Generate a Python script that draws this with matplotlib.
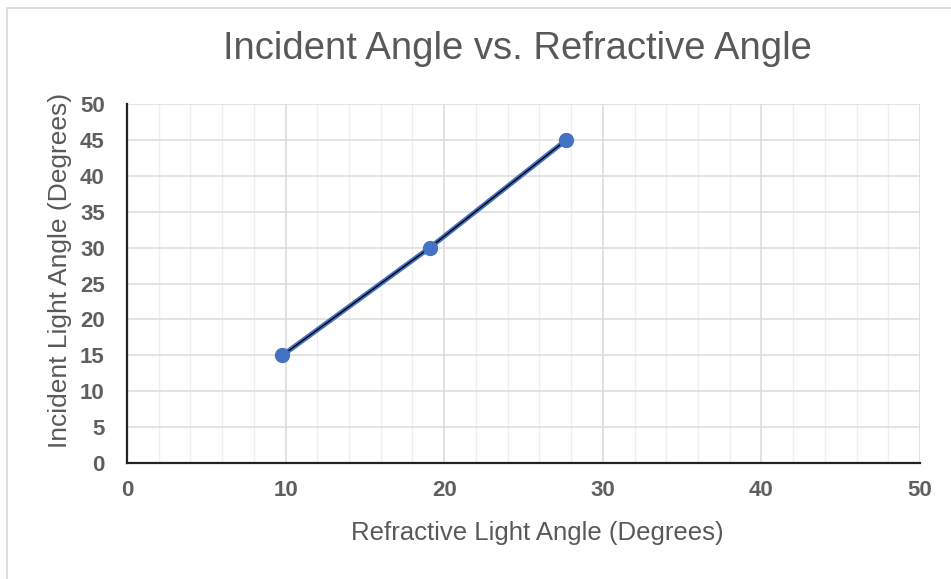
import matplotlib.pyplot as plt
from matplotlib.patches import Rectangle
from matplotlib.ticker import MultipleLocator

# Data
refractive_angle = [9.8, 19.1, 27.7]
incident_angle = [15, 30, 45]

title = "Incident Angle vs. Refractive Angle"
x_label = "Refractive Light Angle (Degrees)"
y_label = "Incident Light Angle (Degrees)"

plt.rcParams['font.family'] = ['Liberation Sans', 'DejaVu Sans']

W, H = 951, 579
fig = plt.figure(figsize=(W / 100, H / 100), dpi=100)
fig.patch.set_facecolor('white')

# light frame of the cropped chart (left and top edges only)
fig.add_artist(Rectangle((7 / W, -0.1), 1.2, 1.1 - 8 / H, transform=fig.transFigure,
                         fill=False, edgecolor='#d9d9d9', linewidth=1.2))

# axes placed in pixel coordinates of the reference
left, right, top, bottom = 127, 920, 104, 463
ax = fig.add_axes([left / W, 1 - bottom / H, (right - left) / W, (bottom - top) / H])

ax.set_xlim(0, 50)
ax.set_ylim(0, 50)
ax.xaxis.set_major_locator(MultipleLocator(10))
ax.xaxis.set_minor_locator(MultipleLocator(2))
ax.yaxis.set_major_locator(MultipleLocator(5))

ax.grid(which='major', axis='x', color='#d9d9d9', linewidth=1.1)
ax.grid(which='minor', axis='x', color='#efefef', linewidth=1.0)
ax.grid(which='major', axis='y', color='#dcdcdc', linewidth=1.1)
ax.set_axisbelow(True)

for side in ['top', 'right']:
    ax.spines[side].set_visible(False)
for side in ['left', 'bottom']:
    ax.spines[side].set_color('#222222')
    ax.spines[side].set_linewidth(1.6)

ax.tick_params(which='both', length=0)
ax.tick_params(axis='x', pad=12)
ax.tick_params(axis='y', pad=16)
ax.tick_params(axis='both', labelsize=16, labelcolor='#5f5f5f')
for lbl in ax.get_xticklabels() + ax.get_yticklabels():
    lbl.set_fontweight('bold')

# series line, trendline and markers
ax.plot(refractive_angle, incident_angle, color='#4472c4', linewidth=3.6,
        solid_capstyle='round', zorder=3)
ax.plot(refractive_angle, incident_angle, color='black', linewidth=1.0, zorder=4)
ax.plot(refractive_angle, incident_angle, linestyle='none', marker='o',
        markersize=10, color='#4472c4', zorder=5)

fig.text(517 / W, 1 - 49 / H, title, ha='center', va='center',
         fontsize=27.5, color='#595959')
fig.text(537 / W, 1 - 533 / H, x_label, ha='center', va='center',
         fontsize=18.5, color='#595959')
fig.text(60 / W, 1 - 270 / H, y_label, ha='center', va='center', rotation=90,
         fontsize=19, color='#595959')

fig.savefig('out.png', dpi=100)
